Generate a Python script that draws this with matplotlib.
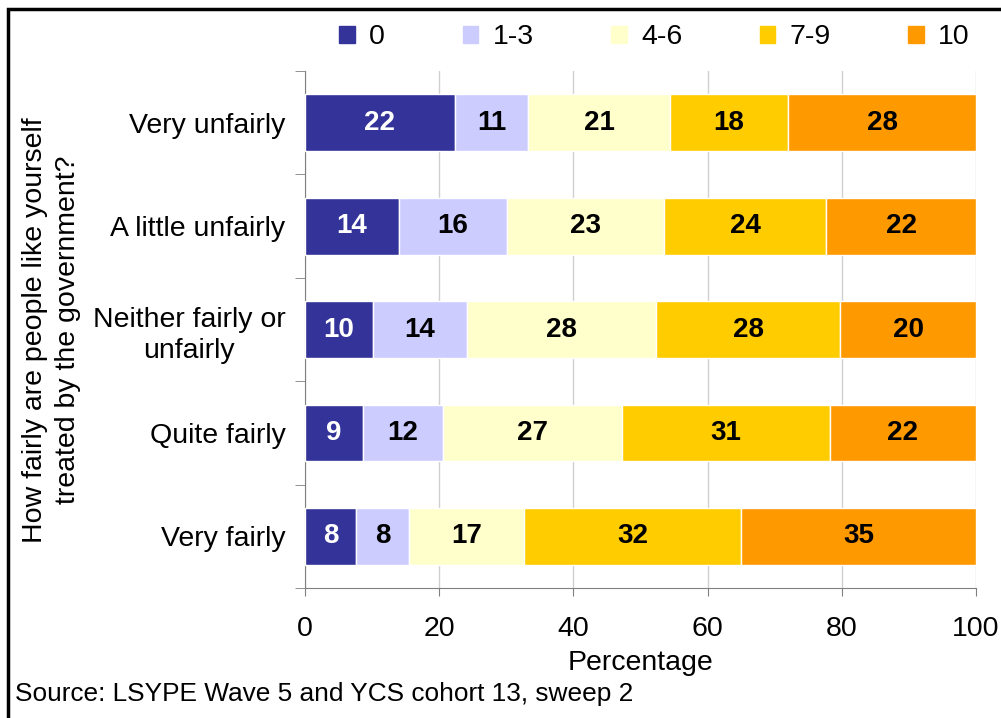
import matplotlib
matplotlib.use('Agg')
import matplotlib.pyplot as plt
from matplotlib.patches import Patch, Rectangle
import numpy as np

plt.rcParams['font.family'] = ['Liberation Sans', 'DejaVu Sans']

# 数据
categories = ['Very unfairly', 'A little unfairly', 'Neither fairly or\nunfairly',
              'Quite fairly', 'Very fairly']
series = ['0', '1-3', '4-6', '7-9', '10']
values_0 = [22.3, 14.0, 10.1, 8.6, 7.6]
values_1_3 = [11.0, 16.1, 14.0, 11.9, 7.9]
values_4_6 = [21.1, 23.4, 28.2, 26.8, 17.1]
values_7_9 = [17.6, 24.2, 27.5, 30.9, 32.4]
values_10 = [28.0, 22.3, 20.2, 21.8, 35.0]
labels_shown = [[22, 14, 10, 9, 8], [11, 16, 14, 12, 8], [21, 23, 28, 27, 17],
                [18, 24, 28, 31, 32], [28, 22, 20, 22, 35]]
colors = ['#333399', '#CCCCFF', '#FFFFCC', '#FFCC00', '#FF9900']

fig = plt.figure(figsize=(10.01, 7.18), dpi=100)
ax = fig.add_axes([0.3047, 0.181, 0.6703, 0.72])

y = np.arange(len(categories))
left = np.zeros(len(categories))
all_vals = [values_0, values_1_3, values_4_6, values_7_9, values_10]
for i, vals in enumerate(all_vals):
    ax.barh(y, vals, left=left, height=0.55, color=colors[i], edgecolor='white',
            linewidth=1, zorder=3, label=series[i])
    for j, v in enumerate(vals):
        ax.text(left[j] + v / 2, y[j], str(labels_shown[i][j]), ha='center', va='center',
                fontsize=20, fontweight='bold', color='white' if i == 0 else 'black', zorder=4)
    left += np.array(vals)

ax.set_xlim(0, 100)
ax.set_ylim(4.5, -0.5)
ax.set_xticks([0, 20, 40, 60, 80, 100])
ax.set_yticks(y)
ax.set_yticklabels(categories, multialignment='center', linespacing=1.25)
ax.set_yticks(np.arange(-0.5, 5, 1), minor=True)
ax.tick_params(axis='y', which='major', length=0, pad=14, labelsize=20.5)
ax.tick_params(axis='y', which='minor', length=7, color='#808080', direction='out')
ax.tick_params(axis='x', length=6, color='#808080', pad=14, labelsize=20.5)
ax.xaxis.grid(True, color='#d0d0d0', linewidth=1, zorder=0)
ax.set_axisbelow(True)
for s in ['top', 'right']:
    ax.spines[s].set_visible(False)
for s in ['left', 'bottom']:
    ax.spines[s].set_color('#808080')

ax.set_xlabel('Percentage', fontsize=20.5, labelpad=6)
fig.text(0.051, 0.54, 'How fairly are people like yourself\ntreated by the government?',
         rotation=90, ha='center', va='center', fontsize=20.5, multialignment='center',
         linespacing=1.35)
fig.text(0.015, 0.033, 'Source: LSYPE Wave 5 and YCS cohort 13, sweep 2', fontsize=18.9,
         ha='left', va='center')

handles = [Patch(facecolor=c, edgecolor=c) for c in colors]
fig.legend(handles, series, ncol=5, loc='center', bbox_to_anchor=(0.654, 0.948),
           frameon=False, fontsize=20.5, handlelength=0.55, handleheight=0.55,
           handletextpad=0.5, columnspacing=2.72)

# 外框
fig.patches.append(Rectangle((0.008, -0.1), 1.2, 1.1 - 0.0125, transform=fig.transFigure,
                             fill=False, edgecolor='black', linewidth=2.5))

fig.savefig('out.png', dpi=100)
